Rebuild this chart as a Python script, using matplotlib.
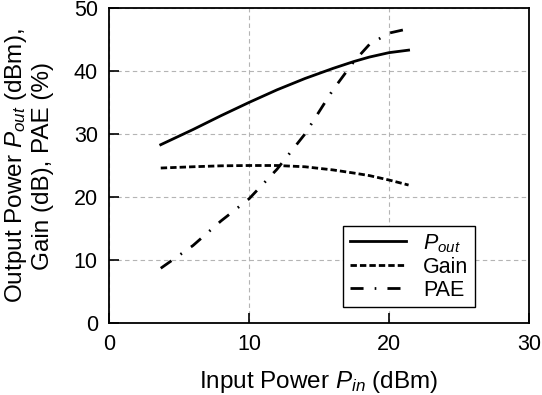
import numpy as np
import matplotlib
matplotlib.use('Agg')
import matplotlib.pyplot as plt

plt.rcParams['font.family'] = 'Liberation Sans'
plt.rcParams['mathtext.fontset'] = 'custom'
plt.rcParams['mathtext.rm'] = 'Liberation Sans'
plt.rcParams['mathtext.it'] = 'Liberation Sans:italic'

# values
pin = [3.7, 6, 8, 10, 12, 14, 16, 17.5, 18.6, 20, 21.4]
pout = [28.3, 30.7, 32.9, 35.0, 37.0, 38.8, 40.4, 41.5, 42.2, 42.9, 43.3]
gain = [24.6, 24.8, 24.95, 25.0, 25.0, 24.8, 24.3, 23.8, 23.4, 22.7, 21.9]
pae = [8.7, 12.3, 16.2, 19.7, 24.4, 30.0, 37.0, 41.5, 44.2, 46.0, 46.7]

fig = plt.figure(figsize=(5.42, 3.95), dpi=100)
ax = fig.add_axes([0.201, 0.182, 0.775, 0.798])

ax.plot(pin, pout, color='black', lw=2.0, ls='-', label='$P_{out}$')
ax.plot(pin, gain, color='black', lw=2.0, ls=(0, (2.3, 1.1)), label='Gain')
ax.plot(pin, pae, color='black', lw=2.0, ls=(0, (4.7, 4, 0.6, 4)), label='PAE')

ax.set_xlim(0, 30)
ax.set_ylim(0, 50)
ax.set_xticks([0, 10, 20, 30])
ax.set_yticks([0, 10, 20, 30, 40, 50])
ax.tick_params(direction='in', length=7, width=1.2, labelsize=15.5, pad=8)
ax.grid(True, color='#b4b4b4', ls=(0, (4, 3)), lw=0.8)
for s in ax.spines.values():
    s.set_linewidth(1.3)

ax.set_xlabel('Input Power $P_{in}$ (dBm)', fontsize=17.5, labelpad=10)
ax.set_ylabel('Output Power $P_{out}$ (dBm),\nGain (dB), PAE (%)', fontsize=17.5,
              labelpad=14, linespacing=1.2)

leg = ax.legend(loc='lower left', bbox_to_anchor=(0.558, 0.05), fontsize=15.5,
                fancybox=False, framealpha=1, edgecolor='black', handlelength=2.6,
                borderpad=0.3, labelspacing=0.1, handletextpad=0.8,
                borderaxespad=0)
leg.get_frame().set_linewidth(1.0)

fig.savefig('out.png', dpi=100)
